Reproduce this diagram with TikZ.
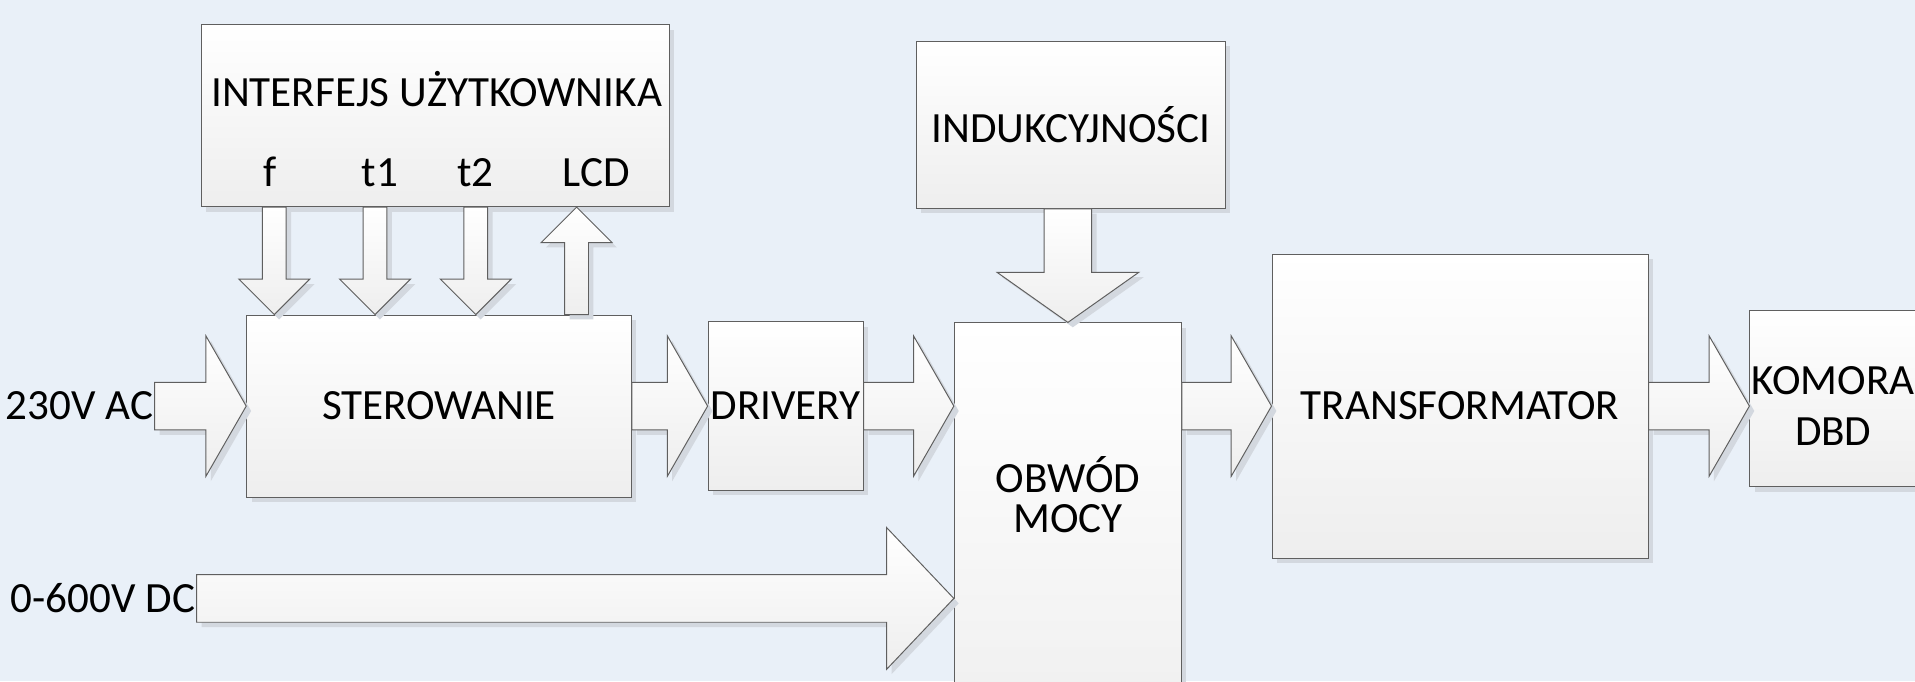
\documentclass[tikz,border=0pt]{standalone}
\usepackage{fontspec}
\setmainfont{Carlito}
\usetikzlibrary{positioning,calc,shadows}
\tikzset{
  fat sw/.store in=\fatsw,
  fat hw/.store in=\fathw,
  fat hl/.store in=\fathl,
  fat sw=19.5pt, fat hw=57.5pt, fat hl=33pt
}

\begin{document}
\begin{tikzpicture}[
    x=1pt, y=1pt,
    node distance=62pt,
    block/.style={
        rectangle,
        draw=linegray,
        line width=0.8pt,
        top color=white,
        bottom color=boxgray,
        drop shadow={shadow xshift=4pt, shadow yshift=-4pt, fill=shadowgray, opacity=1},
        align=center,
        inner sep=2pt,
        font=\fontsize{35.3}{41.5}\selectfont
    },
    txt/.style={
        inner sep=1pt,
        align=center,
        font=\fontsize{35.3}{41.5}\selectfont
    },
    fat/.style={
        draw=linegray,
        line width=0.8pt,
        line join=miter,
        top color=white,
        bottom color=boxgray,
        drop shadow={shadow xshift=4pt, shadow yshift=-4pt, fill=shadowgray, opacity=1},
        to path={let \p1=($(\tikztotarget)!\fathl!(\tikztostart)$) in
            ($(\tikztostart)!\fatsw!90:(\tikztotarget)$)
            -- ($(\p1)!\fatsw!90:(\tikztotarget)$)
            -- ($(\p1)!\fathw!90:(\tikztotarget)$)
            -- (\tikztotarget)
            -- ($(\p1)!\fathw!-90:(\tikztotarget)$)
            -- ($(\p1)!\fatsw!-90:(\tikztotarget)$)
            -- ($(\tikztostart)!\fatsw!-90:(\tikztotarget)$)
            -- cycle}
    },
    minor/.style={fat sw=9.75pt, fat hw=29pt, fat hl=29pt}
]
% Color definitions
\definecolor{bgblue}{RGB}{233,240,248}
\definecolor{boxgray}{RGB}{238,238,238}
\definecolor{linegray}{RGB}{95,95,95}
\definecolor{shadowgray}{RGB}{211,216,223}

\useasboundingbox (0,0) rectangle (1568,558);
\clip (0,0) rectangle (1568,558);
\fill[bgblue] (0,0) rectangle (1568,558);

% Nodes
\node[block, minimum width=315pt, minimum height=149pt] (ster) at (359.5,225.5) {STEROWANIE};
\node[block, minimum width=127pt, minimum height=138pt, right=of ster] (drv) {DRIVERY};
\node[block, minimum width=383pt, minimum height=149pt, above=88pt of ster, xshift=-3pt] (ui) {};
\node[block, minimum width=186pt, minimum height=360pt, anchor=north west] (obw) at (781,294) {};
\node[block, minimum width=253pt, minimum height=137pt, above=93pt of obw, xshift=2.5pt] (ind) {INDUKCYJNOŚCI};
\node[block, minimum width=308pt, minimum height=249pt] (trf) at (1195.5,225.5) {TRANSFORMATOR};
\node[block, minimum width=136.5pt, minimum height=144.6pt, right=82.5pt of trf, yshift=6.2pt] (kom) {};

\node[txt, anchor=base] (uititle) at ($(ui.north)+(1,-67)$) {INTERFEJS UŻYTKOWNIKA};
\foreach \n/\x/\t in {f/221/f, t1/311/t1, t2/389.5/t2, lcd/488/LCD}
  \node[txt, anchor=base] (\n) at (\x,405) {\t};
\node[txt] (obwtxt) at ($(obw.north)+(0,-141)$) {OBWÓD\\[-9pt]MOCY};
\node[txt] (komtxt) at ($(kom.center)+(0,-6)$) {KOMORA\\DBD};

\node[txt, left=75pt of ster] (l230) {230V AC};
\node[txt, anchor=east] (ldc) at (161,68) {0-600V DC};

% Arrows
\draw[fat] (l230.east) to (ster.west);
\draw[fat] (ster.east) to (drv.west);
\coordinate (obwin) at (drv.east -| obw.west);
\draw[fat] (drv.east) to (obwin);
\coordinate (obwout) at (trf.west -| obw.east);
\draw[fat] (obwout) to (trf.west);
\coordinate (komin) at (trf.east -| kom.west);
\draw[fat] (trf.east) to (komin);
\coordinate (dcin) at (ldc.east -| obw.west);
\draw[fat, fat hl=55pt, fat hw=58pt] (ldc.east) to (dcin);
\coordinate (indout) at (obw.north |- ind.south);
\draw[fat, fat hl=41pt, fat hw=58pt] (indout) to (obw.north);

\foreach \i in {0,1,2} {
  \coordinate (in\i) at ($(ster.north west)+({23+82.5*\i},0)$);
  \coordinate (out\i) at (in\i |- ui.south);
  \draw[fat, minor] (out\i) to (in\i);
}
\coordinate (lcdout) at ($(ster.north west)+(270.5,0)$);
\coordinate (lcdin) at (lcdout |- ui.south);
\draw[fat, minor] (lcdout) to (lcdin);

\end{tikzpicture}
\end{document}
